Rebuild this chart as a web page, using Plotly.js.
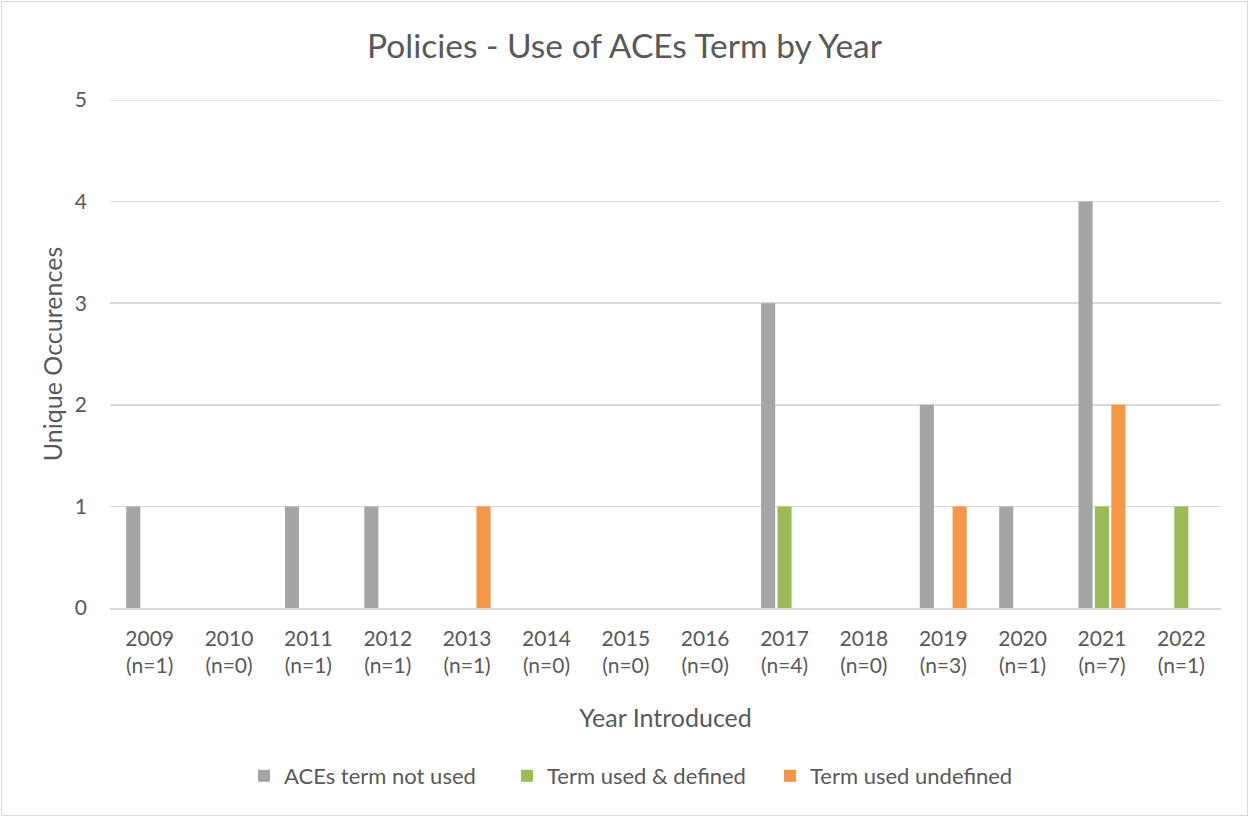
<!DOCTYPE html>
<html>
<head>
<meta charset="utf-8">
<script src="https://cdn.plot.ly/plotly-3.0.1.min.js"></script>
<style>
  html, body { margin: 0; padding: 0; background: #fff; }
  #wrap { position: relative; width: 1249px; height: 817px; }
  #chart { position: absolute; left: 0; top: 0; width: 1249px; height: 817px; }
  #frame { position: absolute; left: 1px; top: 1px; width: 1245px; height: 813px;
           border: 1px solid #d9d9d9; pointer-events: none; }
</style>
</head>
<body>
<div id="wrap">
  <div id="chart"></div>
  <div id="frame"></div>
</div>
<script>
// Years the policies were introduced and the policy count per year
const years = ['2009', '2010', '2011', '2012', '2013', '2014', '2015', '2016',
               '2017', '2018', '2019', '2020', '2021', '2022'];
const policyCounts = [1, 0, 1, 1, 1, 0, 0, 0, 4, 0, 3, 1, 7, 1];

// Occurrences per usage category
const termNotUsed       = [1, 0, 1, 1, 0, 0, 0, 0, 3, 0, 2, 1, 4, 0];
const termUsedDefined   = [0, 0, 0, 0, 0, 0, 0, 0, 1, 0, 0, 0, 1, 1];
const termUsedUndefined = [0, 0, 0, 0, 1, 0, 0, 0, 0, 0, 1, 0, 2, 0];

const seriesNames = ['ACEs term not used', 'Term used & defined', 'Term used undefined'];
const seriesColors = ['#a5a5a5', '#9bbb59', '#f79646'];

const yMax = 5;

const tickLabels = years.map((y, i) => y + '<br>(n=' + policyCounts[i] + ')');

const font = 'Lato, "Open Sans", sans-serif';
const textColor = '#595959';
const gridColor = '#d9d9d9';

const traces = [termNotUsed, termUsedDefined, termUsedUndefined].map((vals, k) => ({
  type: 'bar',
  name: seriesNames[k],
  x: years,
  y: vals,
  marker: { color: seriesColors[k], line: { width: 0 } },
  hoverinfo: 'x+y+name'
}));

const layout = {
  width: 1249,
  height: 817,
  paper_bgcolor: '#ffffff',
  plot_bgcolor: '#ffffff',
  margin: { l: 110, r: 28, t: 100, b: 209 },
  barmode: 'group',
  bargap: 0.38,
  bargroupgap: 0.14,
  font: { family: font, color: textColor, size: 20 },
  title: {
    text: 'Policies - Use of ACEs Term by Year',
    font: { family: font, size: 33.5, color: textColor },
    x: 0.5, xanchor: 'center',
    y: 1 - 46 / 817, yanchor: 'middle', yref: 'container'
  },
  xaxis: {
    type: 'category',
    categoryorder: 'array',
    categoryarray: years,
    tickmode: 'array',
    tickvals: years,
    ticktext: tickLabels,
    ticks: '',
    showgrid: false,
    showline: true,
    linecolor: gridColor,
    linewidth: 1.5,
    tickfont: { family: font, size: 21, color: textColor },
    ticklabelstandoff: 11,
    title: { text: 'Year Introduced', font: { family: font, size: 25, color: textColor }, standoff: 33 }
  },
  yaxis: {
    range: [0, yMax],
    tickvals: [0, 1, 2, 3, 4, 5],
    ticks: '',
    showgrid: true,
    gridcolor: gridColor,
    gridwidth: 1.5,
    zeroline: false,
    showline: false,
    tickfont: { family: font, size: 21, color: textColor },
    ticklabelstandoff: 22,
    title: { text: 'Unique Occurences', font: { family: font, size: 25, color: textColor }, standoff: 5 }
  },
  // gridline at the top of the value range
  shapes: [{
    type: 'line', xref: 'paper', yref: 'y',
    x0: 0, x1: 1, y0: yMax, y1: yMax,
    line: { color: gridColor, width: 1.5 },
    layer: 'below'
  }],
  legend: {
    orientation: 'h',
    x: (244 - 110) / 1111, xanchor: 'left',
    y: -(776 - 608) / 508, yanchor: 'middle',
    font: { family: font, size: 22, color: textColor },
    itemwidth: 30,
    entrywidth: 218,
    entrywidthmode: 'pixels',
    traceorder: 'normal'
  },
  showlegend: true
};

Plotly.newPlot('chart', traces, layout, { displayModeBar: false, staticPlot: true });
</script>
</body>
</html>
